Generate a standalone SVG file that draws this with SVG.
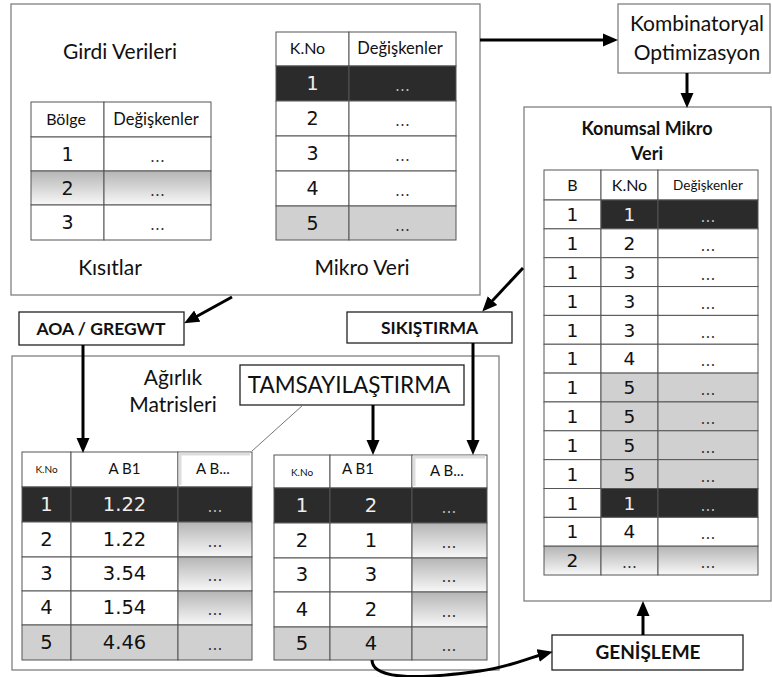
<svg xmlns="http://www.w3.org/2000/svg" width="772" height="677" viewBox="0 0 772 677">
<style>
.box{fill:#fff;stroke:#808080;stroke-width:1.3}
.lbox{fill:#fff;stroke:#222;stroke-width:1.3}
.c{fill:#fff;stroke:#555;stroke-width:1}
.d{fill:#2b2b2b;stroke:#555;stroke-width:1}
.g{fill:#d0d0d0;stroke:#555;stroke-width:1}
.gr{fill:url(#grad);stroke:#555;stroke-width:1}
.t{font-family:Lato,"Open Sans",sans-serif;fill:#111;text-anchor:middle}
.b{font-family:Lato,"Open Sans",sans-serif;font-weight:bold;fill:#111;text-anchor:middle}
.n{font-family:"DejaVu Sans",sans-serif;fill:#111;text-anchor:middle}
.nw{font-family:"DejaVu Sans",sans-serif;fill:#eee;text-anchor:middle}
.dots{font-family:"DejaVu Sans",sans-serif;fill:#333;text-anchor:middle;font-size:15.5px}
.dotsw{font-family:"DejaVu Sans",sans-serif;fill:#bbb;text-anchor:middle;font-size:15.5px}
.h{font-family:Lato,"Open Sans",sans-serif;fill:#111;text-anchor:middle}
.a{fill:none;stroke:#000;stroke-width:3;marker-end:url(#ah)}
</style>
<defs>
<linearGradient id="grad" x1="0" y1="0" x2="0" y2="1">
<stop offset="0" stop-color="#b5b5b5"/>
<stop offset="1" stop-color="#f8f8f8"/>
</linearGradient>
<marker id="ah" markerWidth="16" markerHeight="14" refX="6" refY="7" orient="auto" markerUnits="userSpaceOnUse">
<path d="M0,0.5 L15,7 L0,13.5 Z" fill="#000"/>
</marker>
</defs>

<g id="input-box">
<rect class="box" x="11" y="4" width="469" height="291"/>
<text class="t" x="120" y="59" font-size="21">Girdi Verileri</text>
<text class="t" x="110" y="275" font-size="21">Kısıtlar</text>
<text class="t" x="362" y="275" font-size="21">Mikro Veri</text>
</g>

<g id="bolge-table" font-size="19">
<rect class="c" x="31" y="102" width="73" height="35"/>
<rect class="c" x="104" y="102" width="107" height="35"/>
<rect class="c" x="31" y="137" width="73" height="34"/>
<rect class="c" x="104" y="137" width="107" height="34"/>
<rect class="gr" x="31" y="171" width="73" height="34"/>
<rect class="gr" x="104" y="171" width="107" height="34"/>
<rect class="c" x="31" y="205" width="73" height="35"/>
<rect class="c" x="104" y="205" width="107" height="35"/>
<text class="h" x="66" y="125" font-size="16">Bölge</text>
<text class="h" x="156" y="125" font-size="16.5">Değişkenler</text>
<text class="n" x="67.5" y="161">1</text><text class="dots" x="157.5" y="162">...</text>
<text class="n" x="67.5" y="195">2</text><text class="dots" x="157.5" y="196">...</text>
<text class="n" x="67.5" y="229">3</text><text class="dots" x="157.5" y="230">...</text>
</g>

<g id="mikro-table" font-size="19">
<rect class="c" x="276" y="32" width="73" height="34"/>
<rect class="c" x="349" y="32" width="107" height="34"/>
<rect class="d" x="276" y="66" width="73" height="35"/>
<rect class="d" x="349" y="66" width="107" height="35"/>
<rect class="c" x="276" y="101" width="73" height="35"/>
<rect class="c" x="349" y="101" width="107" height="35"/>
<rect class="c" x="276" y="136" width="73" height="35"/>
<rect class="c" x="349" y="136" width="107" height="35"/>
<rect class="c" x="276" y="171" width="73" height="35"/>
<rect class="c" x="349" y="171" width="107" height="35"/>
<rect class="g" x="276" y="206" width="73" height="34"/>
<rect class="g" x="349" y="206" width="107" height="34"/>
<text class="h" x="307.5" y="54" font-size="16">K.No</text>
<text class="h" x="400" y="54" font-size="16.5">Değişkenler</text>
<text class="nw" x="312.5" y="90">1</text><text class="dotsw" x="402.5" y="91">...</text>
<text class="n" x="312.5" y="125">2</text><text class="dots" x="402.5" y="126">...</text>
<text class="n" x="312.5" y="160">3</text><text class="dots" x="402.5" y="161">...</text>
<text class="n" x="312.5" y="195">4</text><text class="dots" x="402.5" y="196">...</text>
<text class="n" x="312.5" y="230">5</text><text class="dots" x="402.5" y="231">...</text>
</g>

<g id="kombinatoryal">
<rect class="box" x="618" y="4" width="152" height="69"/>
<text class="t" x="697" y="31" font-size="21">Kombinatoryal</text>
<text class="t" x="697" y="60" font-size="21">Optimizasyon</text>
</g>

<g id="konumsal-box">
<rect class="box" x="524" y="107" width="247" height="494"/>
<text class="b" x="647" y="135" font-size="18">Konumsal Mikro</text>
<text class="b" x="647" y="160" font-size="18">Veri</text>
</g>

<g id="konumsal-table" font-size="18.5">
<rect class="c" x="544" y="170" width="57" height="30" stroke="#222" stroke-width="1.3"/>
<rect class="c" x="601" y="170" width="57" height="30" stroke="#222" stroke-width="1.3"/>
<rect class="c" x="658" y="170" width="100" height="30"/>
<text class="h" x="572.5" y="191" font-size="16">B</text>
<text class="h" x="629.5" y="191" font-size="16">K.No</text>
<text class="h" x="708" y="190" font-size="13.5">Değişkenler</text>
<g>
<rect class="c" x="544" y="200" width="57" height="28.85"/><rect class="d" x="601" y="200" width="57" height="28.85"/><rect class="d" x="658" y="200" width="100" height="28.85"/>
<rect class="c" x="544" y="228.85" width="57" height="28.85"/><rect class="c" x="601" y="228.85" width="57" height="28.85"/><rect class="c" x="658" y="228.85" width="100" height="28.85"/>
<rect class="c" x="544" y="257.7" width="57" height="28.85"/><rect class="c" x="601" y="257.7" width="57" height="28.85"/><rect class="c" x="658" y="257.7" width="100" height="28.85"/>
<rect class="c" x="544" y="286.55" width="57" height="28.85"/><rect class="c" x="601" y="286.55" width="57" height="28.85"/><rect class="c" x="658" y="286.55" width="100" height="28.85"/>
<rect class="c" x="544" y="315.4" width="57" height="28.85"/><rect class="c" x="601" y="315.4" width="57" height="28.85"/><rect class="c" x="658" y="315.4" width="100" height="28.85"/>
<rect class="c" x="544" y="344.25" width="57" height="28.85"/><rect class="c" x="601" y="344.25" width="57" height="28.85"/><rect class="c" x="658" y="344.25" width="100" height="28.85"/>
<rect class="c" x="544" y="373.1" width="57" height="28.85"/><rect class="g" x="601" y="373.1" width="57" height="28.85"/><rect class="g" x="658" y="373.1" width="100" height="28.85"/>
<rect class="c" x="544" y="401.95" width="57" height="28.85"/><rect class="g" x="601" y="401.95" width="57" height="28.85"/><rect class="g" x="658" y="401.95" width="100" height="28.85"/>
<rect class="c" x="544" y="430.8" width="57" height="28.85"/><rect class="g" x="601" y="430.8" width="57" height="28.85"/><rect class="g" x="658" y="430.8" width="100" height="28.85"/>
<rect class="c" x="544" y="459.65" width="57" height="28.85"/><rect class="g" x="601" y="459.65" width="57" height="28.85"/><rect class="g" x="658" y="459.65" width="100" height="28.85"/>
<rect class="c" x="544" y="488.5" width="57" height="28.85"/><rect class="d" x="601" y="488.5" width="57" height="28.85"/><rect class="d" x="658" y="488.5" width="100" height="28.85"/>
<rect class="c" x="544" y="517.35" width="57" height="28.85"/><rect class="c" x="601" y="517.35" width="57" height="28.85"/><rect class="c" x="658" y="517.35" width="100" height="28.85"/>
<rect class="gr" x="544" y="546.2" width="57" height="28.8"/><rect class="gr" x="601" y="546.2" width="57" height="28.8"/><rect class="gr" x="658" y="546.2" width="100" height="28.8"/>
</g>
<g>
<text class="n" x="572.5" y="221">1</text><text class="nw" x="629.5" y="221">1</text><text class="dotsw" x="708" y="222">...</text>
<text class="n" x="572.5" y="250">1</text><text class="n" x="629.5" y="250">2</text><text class="dots" x="708" y="251">...</text>
<text class="n" x="572.5" y="279">1</text><text class="n" x="629.5" y="279">3</text><text class="dots" x="708" y="280">...</text>
<text class="n" x="572.5" y="307.5">1</text><text class="n" x="629.5" y="307.5">3</text><text class="dots" x="708" y="308.5">...</text>
<text class="n" x="572.5" y="336.5">1</text><text class="n" x="629.5" y="336.5">3</text><text class="dots" x="708" y="337.5">...</text>
<text class="n" x="572.5" y="365">1</text><text class="n" x="629.5" y="365">4</text><text class="dots" x="708" y="366">...</text>
<text class="n" x="572.5" y="394">1</text><text class="n" x="629.5" y="394">5</text><text class="dots" x="708" y="395">...</text>
<text class="n" x="572.5" y="423">1</text><text class="n" x="629.5" y="423">5</text><text class="dots" x="708" y="424">...</text>
<text class="n" x="572.5" y="452">1</text><text class="n" x="629.5" y="452">5</text><text class="dots" x="708" y="453">...</text>
<text class="n" x="572.5" y="480.5">1</text><text class="n" x="629.5" y="480.5">5</text><text class="dots" x="708" y="481.5">...</text>
<text class="n" x="572.5" y="509.5">1</text><text class="nw" x="629.5" y="509.5">1</text><text class="dotsw" x="708" y="510.5">...</text>
<text class="n" x="572.5" y="538">1</text><text class="n" x="629.5" y="538">4</text><text class="dots" x="708" y="539">...</text>
<text class="n" x="572.5" y="567">2</text><text class="dots" x="629.5" y="568">...</text><text class="dots" x="708" y="568">...</text>
</g>
</g>

<g id="aoa-gregwt">
<rect class="lbox" x="19" y="312" width="165" height="33"/>
<text class="b" x="101" y="334.5" font-size="17.5">AOA / GREGWT</text>
</g>

<g id="sikistirma">
<rect class="lbox" x="347" y="312" width="165" height="31"/>
<text class="b" x="429.5" y="333.5" font-size="17.5">SIKIŞTIRMA</text>
</g>

<g id="agirlik-box">
<rect class="box" x="12" y="356" width="487" height="314"/>
<text class="t" x="173" y="385" font-size="21">Ağırlık</text>
<text class="t" x="173" y="412" font-size="21">Matrisleri</text>
</g>

<g id="tamsayilastirma">
<rect class="lbox" x="240" y="365" width="224" height="40"/>
<text class="t" x="349" y="393" font-size="22.5">TAMSAYILAŞTIRMA</text>
</g>

<g id="weights-table" font-size="19.5">
<rect class="c" x="22" y="452" width="49" height="35"/><rect class="c" x="71" y="452" width="107" height="35"/><rect class="c" x="178" y="452" width="74" height="35"/>
<path d="M180,485 V454 H250" fill="none" stroke="#ddd" stroke-width="3"/>
<rect class="d" x="22" y="487" width="49" height="35"/><rect class="d" x="71" y="487" width="107" height="35"/><rect class="d" x="178" y="487" width="74" height="35"/>
<rect class="c" x="22" y="522" width="49" height="35"/><rect class="c" x="71" y="522" width="107" height="35"/><rect class="gr" x="178" y="522" width="74" height="35"/>
<rect class="c" x="22" y="557" width="49" height="34"/><rect class="c" x="71" y="557" width="107" height="34"/><rect class="gr" x="178" y="557" width="74" height="34"/>
<rect class="c" x="22" y="591" width="49" height="34"/><rect class="c" x="71" y="591" width="107" height="34"/><rect class="gr" x="178" y="591" width="74" height="34"/>
<rect class="g" x="22" y="625" width="49" height="35"/><rect class="g" x="71" y="625" width="107" height="35"/><rect class="g" x="178" y="625" width="74" height="35"/>
<text class="h" x="46.5" y="473" font-size="10">K.No</text>
<text class="h" x="124.5" y="474" font-size="15">A B1</text>
<text class="h" x="213" y="474" font-size="15">A B...</text>
<text class="nw" x="46.5" y="511">1</text><text class="nw" x="124.5" y="511">1.22</text><text class="dotsw" x="215" y="512">...</text>
<text class="n" x="46.5" y="546">2</text><text class="n" x="124.5" y="546">1.22</text><text class="dots" x="215" y="547">...</text>
<text class="n" x="46.5" y="580">3</text><text class="n" x="124.5" y="580">3.54</text><text class="dots" x="215" y="581">...</text>
<text class="n" x="46.5" y="614">4</text><text class="n" x="124.5" y="614">1.54</text><text class="dots" x="215" y="615">...</text>
<text class="n" x="46.5" y="649">5</text><text class="n" x="124.5" y="649">4.46</text><text class="dots" x="215" y="650">...</text>
</g>

<g id="integer-table" font-size="19.5">
<rect class="c" x="274" y="455" width="56" height="33"/><rect class="c" x="330" y="455" width="82" height="33"/><rect class="c" x="412" y="455" width="75" height="33"/>
<path d="M414,486 V457 H485" fill="none" stroke="#ddd" stroke-width="3"/>
<rect class="d" x="274" y="488" width="56" height="35"/><rect class="d" x="330" y="488" width="82" height="35"/><rect class="d" x="412" y="488" width="75" height="35"/>
<rect class="c" x="274" y="523" width="56" height="35"/><rect class="c" x="330" y="523" width="82" height="35"/><rect class="gr" x="412" y="523" width="75" height="35"/>
<rect class="c" x="274" y="558" width="56" height="34"/><rect class="c" x="330" y="558" width="82" height="34"/><rect class="gr" x="412" y="558" width="75" height="34"/>
<rect class="c" x="274" y="592" width="56" height="35"/><rect class="c" x="330" y="592" width="82" height="35"/><rect class="gr" x="412" y="592" width="75" height="35"/>
<rect class="g" x="274" y="627" width="56" height="33"/><rect class="g" x="330" y="627" width="82" height="33"/><rect class="g" x="412" y="627" width="75" height="33"/>
<text class="h" x="302" y="476" font-size="10">K.No</text>
<text class="h" x="358" y="474" font-size="15">A B1</text>
<text class="h" x="447" y="476" font-size="15">A B...</text>
<text class="nw" x="302" y="512">1</text><text class="nw" x="371" y="512">2</text><text class="dotsw" x="449" y="513">...</text>
<text class="n" x="302" y="547">2</text><text class="n" x="371" y="547">1</text><text class="dots" x="449" y="548">...</text>
<text class="n" x="302" y="581">3</text><text class="n" x="371" y="581">3</text><text class="dots" x="449" y="582">...</text>
<text class="n" x="302" y="616">4</text><text class="n" x="371" y="616">2</text><text class="dots" x="449" y="617">...</text>
<text class="n" x="302" y="650">5</text><text class="n" x="371" y="650">4</text><text class="dots" x="449" y="651">...</text>
</g>

<g id="genisleme">
<rect class="lbox" x="552" y="635" width="191" height="35"/>
<text class="b" x="648" y="659" font-size="19">GENİŞLEME</text>
</g>

<g id="connectors">
<line class="a" x1="480" y1="40" x2="609" y2="40"/>
<line class="a" x1="687" y1="73" x2="687" y2="99"/>
<line class="a" x1="232" y1="297" x2="192" y2="319"/>
<line class="a" x1="523" y1="268" x2="488.4" y2="305"/>
<line class="a" x1="83" y1="345" x2="83" y2="444"/>
<line class="a" x1="373" y1="405" x2="373" y2="446"/>
<line class="a" x1="473" y1="343" x2="473" y2="446"/>
<line class="a" x1="643" y1="635" x2="643" y2="610"/>
<path class="a" d="M372,660 C372,682 430,678 480,671 C510,667 528,658 544,654"/>
<line x1="303" y1="405" x2="252" y2="451" stroke="#777" stroke-width="1"/>
</g>
</svg>
